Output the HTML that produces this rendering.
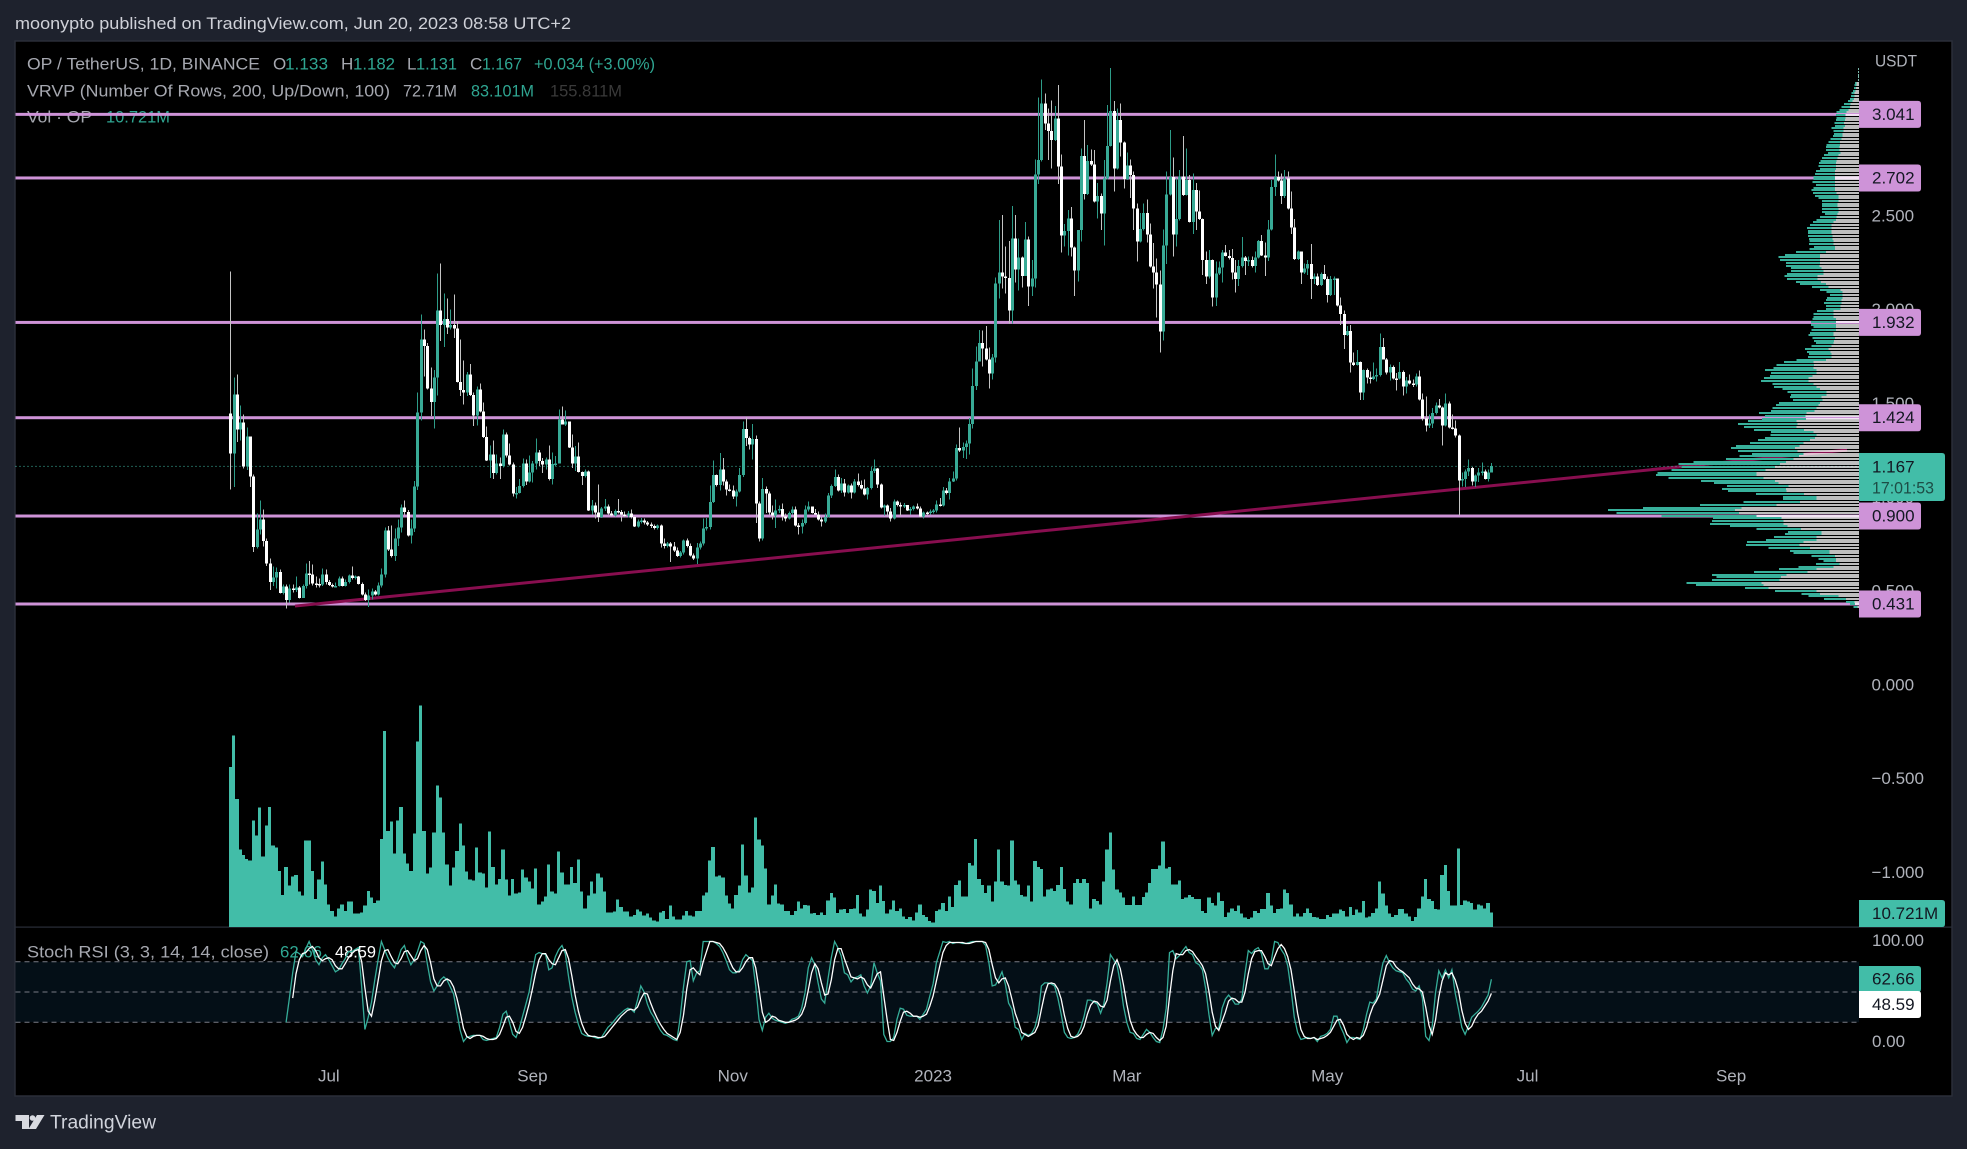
<!DOCTYPE html>
<html lang="en">
<head>
<meta charset="utf-8">
<title>OP / TetherUS chart</title>
<style>
html,body{margin:0;padding:0;background:#1e222d;width:1967px;height:1149px;overflow:hidden}
svg{display:block}
text{font-family:"Liberation Sans",sans-serif;font-size:17px;fill:#b0b3bb;dominant-baseline:central}
.lg{fill:#a6a8b0}.up{fill:#2fa692}
</style>
</head>
<body>
<svg id="chart" width="1967" height="1149" viewBox="0 0 1967 1149" xmlns="http://www.w3.org/2000/svg">
<rect x="0" y="0" width="1967" height="1149" fill="#1e222d"/>
<text x="15" y="23.5" textLength="556" lengthAdjust="spacingAndGlyphs" style="fill:#cfd1d8">moonypto published on TradingView.com, Jun 20, 2023 08:58 UTC+2</text>
<rect x="15" y="41" width="1937" height="1055" fill="#000" stroke="#2a2e39" stroke-width="1.5"/>
<g id="legends">
<text class="lg" x="27" y="64" textLength="233" lengthAdjust="spacingAndGlyphs">OP / TetherUS, 1D, BINANCE</text>
<text class="lg" x="273" y="64">O</text>
<text class="up" x="285" y="64" textLength="43" lengthAdjust="spacingAndGlyphs">1.133</text>
<text class="lg" x="341" y="64">H</text>
<text class="up" x="353" y="64" textLength="42" lengthAdjust="spacingAndGlyphs">1.182</text>
<text class="lg" x="407" y="64">L</text>
<text class="up" x="416" y="64" textLength="41" lengthAdjust="spacingAndGlyphs">1.131</text>
<text class="lg" x="470" y="64">C</text>
<text class="up" x="482" y="64" textLength="40" lengthAdjust="spacingAndGlyphs">1.167</text>
<text class="up" x="534" y="64" textLength="121" lengthAdjust="spacingAndGlyphs">+0.034 (+3.00%)</text>
<text class="lg" x="27" y="91" textLength="363" lengthAdjust="spacingAndGlyphs">VRVP (Number Of Rows, 200, Up/Down, 100)</text>
<text class="lg" x="403" y="91" textLength="54" lengthAdjust="spacingAndGlyphs">72.71M</text>
<text class="up" x="471" y="91" textLength="63" lengthAdjust="spacingAndGlyphs">83.101M</text>
<text x="550" y="91" textLength="72" lengthAdjust="spacingAndGlyphs" style="fill:#3a3a3a">155.811M</text>
<text class="lg" x="27" y="117" textLength="65" lengthAdjust="spacingAndGlyphs">Vol · OP</text>
<text class="up" x="106" y="117" textLength="64" lengthAdjust="spacingAndGlyphs">10.721M</text>
<text class="lg" x="27" y="952" textLength="242" lengthAdjust="spacingAndGlyphs">Stoch RSI (3, 3, 14, 14, close)</text>
<text class="up" x="280" y="952" textLength="42" lengthAdjust="spacingAndGlyphs">62.66</text>
<text x="335" y="952" textLength="41" lengthAdjust="spacingAndGlyphs" style="fill:#fff">48.59</text>
</g>
<g>
<path d="M15.5 1115H29V1129H22V1121H15.5ZM37 1115H44.5L36 1129H28.5Z" fill="#d8dae0"/>
<circle cx="32.5" cy="1118" r="2.8" fill="#d8dae0"/>
<text x="50" y="1123" textLength="106" lengthAdjust="spacingAndGlyphs" style="font-size:19px;fill:#d1d4dc">TradingView</text>
</g>
</svg>
<script>
// ---------- price series (one entry per daily bar) ----------
const firstOpen = 1.447;
const closes = [1.234,1.549,1.362,1.399,1.163,1.325,1.110,.735,.829,.882,
.767,.648,.548,.571,.602,.490,.523,.451,.513,.506,
.518,.463,.527,.593,.587,.539,.538,.534,.587,.548,
.532,.527,.527,.566,.527,.548,.584,.570,.577,.538,
.482,.451,.477,.498,.482,.530,.589,.824,.722,.687,
.781,.838,.945,.921,.797,.833,1.058,1.451,1.842,1.806,
1.581,1.508,1.638,1.996,1.917,1.949,1.904,1.917,1.899,1.614,
1.572,1.558,1.655,1.545,1.437,1.575,1.456,1.321,1.197,1.227,
1.128,1.181,1.167,1.335,1.223,1.174,1.021,1.024,1.060,1.181,
1.085,1.131,1.181,1.238,1.192,1.174,1.202,1.096,1.176,1.181,
1.415,1.389,1.405,1.266,1.181,1.216,1.135,1.113,1.138,.930,
.957,.918,.895,.939,.950,.914,.904,.927,.921,.909,
.904,.913,.895,.845,.870,.877,.865,.854,.847,.836,
.850,.754,.740,.754,.737,.717,.687,.705,.769,.740,
.690,.673,.733,.753,.833,.842,.975,1.119,1.065,1.147,
1.085,1.041,1.037,1.003,1.032,1.119,1.364,1.316,1.280,1.311,
.966,.779,1.044,1.019,.920,.902,.929,.938,.898,.888,
.916,.934,.850,.843,.863,.934,.950,.916,.909,.881,
.870,.895,1.009,1.060,1.108,1.035,1.073,1.025,1.062,1.025,
1.083,1.065,1.048,1.014,1.049,1.140,1.153,1.067,.945,.955,
.925,.888,.977,.959,.950,.959,.930,.938,.952,.939,
.897,.920,.918,.925,.929,.961,.955,1.035,1.023,1.085,
1.099,1.263,1.250,1.268,1.286,1.391,1.593,1.723,1.821,1.792,
1.735,1.659,1.744,2.140,2.199,2.176,2.169,1.995,2.380,2.215,
2.279,2.180,2.375,2.123,2.167,2.721,2.798,3.100,2.993,2.952,
2.905,3.020,2.762,2.395,2.418,2.487,2.331,2.208,2.425,2.819,
2.617,2.793,2.773,2.576,2.606,2.512,2.700,2.873,3.059,2.752,
3.011,2.890,2.697,2.769,2.718,2.538,2.363,2.430,2.515,2.400,
2.229,2.197,2.135,1.883,2.343,2.615,2.706,2.400,2.482,2.709,
2.611,2.691,2.467,2.638,2.522,2.482,2.265,2.176,2.265,2.064,
2.194,2.226,2.304,2.286,2.275,2.197,2.164,2.233,2.279,2.259,
2.265,2.233,2.279,2.366,2.290,2.277,2.428,2.654,2.706,2.688,
2.606,2.700,2.538,2.437,2.270,2.309,2.197,2.220,2.243,2.164,
2.176,2.131,2.190,2.164,2.078,2.164,2.167,2.021,1.977,1.865,
1.886,1.717,1.705,1.721,1.558,1.678,1.638,1.630,1.643,1.652,
1.801,1.734,1.666,1.694,1.634,1.632,1.668,1.591,1.622,1.606,
1.600,1.643,1.520,1.421,1.382,1.392,1.449,1.488,1.478,1.382,
1.499,1.371,1.367,1.328,1.088,1.097,1.138,1.156,1.083,1.115,
1.133,1.138,1.097,1.133,1.167];
const highs = [2.203,1.638,1.655,1.490,1.442,1.371,1.325,1.120,.913,.984,
.936,.779,.673,.630,.625,.616,.536,.536,.536,.536,
.577,.527,.536,.648,.660,.642,.577,.566,.619,.616,
.559,.541,.545,.577,.577,.562,.589,.630,.584,.580,
.545,.491,.509,.513,.506,.545,.619,.838,.847,.850,
.833,.882,.962,.984,.932,.882,1.087,1.558,1.975,1.895,
1.821,1.691,1.678,2.194,2.247,2.085,2.059,2.002,2.082,1.940,
1.842,1.730,1.668,1.709,1.558,1.590,1.607,1.504,1.376,1.277,
1.303,1.229,1.211,1.362,1.344,1.287,1.184,1.056,1.096,1.206,
1.202,1.223,1.193,1.312,1.252,1.209,1.211,1.277,1.238,1.220,
1.469,1.483,1.462,1.405,1.335,1.273,1.291,1.138,1.149,1.142,
.985,.971,1.069,.948,.992,.962,.927,.936,.992,.932,
.925,.927,.936,.904,.882,.889,.886,.873,.865,.856,
.856,.854,.779,.761,.761,.761,.731,.713,.776,.779,
.754,.701,.756,.765,.886,.890,1.062,1.195,1.121,1.236,
1.209,1.094,1.067,1.062,1.041,1.156,1.405,1.426,1.325,1.391,
1.328,.978,1.103,1.058,1.032,.955,.987,.955,.966,.913,
.925,.952,.952,.863,.881,.955,.978,.952,.938,.925,
.891,.913,1.023,1.067,1.147,1.121,1.103,1.097,1.067,1.073,
1.097,1.126,1.089,1.094,1.055,1.161,1.200,1.156,1.073,.961,
.961,.943,.987,.984,.973,.970,.959,.948,.955,.966,
.952,.925,.925,.934,.938,.982,.996,1.055,1.049,1.103,
1.138,1.280,1.373,1.293,1.302,1.423,1.687,1.803,1.892,1.888,
1.913,1.799,1.764,2.172,2.478,2.505,2.336,2.366,2.553,2.505,
2.380,2.283,2.466,2.389,2.265,2.801,3.132,3.228,3.153,3.073,
3.114,3.086,3.198,2.828,2.457,2.531,2.546,2.336,2.425,2.860,
3.011,2.878,2.855,2.851,2.674,2.620,2.798,3.091,3.287,3.112,
3.073,3.100,2.896,2.837,2.801,2.736,2.567,2.514,2.567,2.588,
2.460,2.354,2.274,2.208,2.428,2.736,2.958,2.812,2.700,2.745,
2.926,2.860,2.718,2.727,2.674,2.634,2.487,2.309,2.318,2.268,
2.256,2.256,2.318,2.345,2.318,2.322,2.265,2.265,2.386,2.286,
2.283,2.283,2.309,2.371,2.398,2.357,2.478,2.691,2.828,2.736,
2.727,2.745,2.736,2.629,2.482,2.315,2.309,2.247,2.265,2.350,
2.194,2.194,2.197,2.238,2.176,2.180,2.176,2.167,2.066,1.995,
1.913,1.918,1.771,1.785,1.723,1.682,1.687,1.670,1.717,1.687,
1.874,1.849,1.742,1.707,1.702,1.662,1.721,1.677,1.641,1.654,
1.627,1.659,1.675,1.552,1.538,1.440,1.476,1.506,1.524,1.485,
1.552,1.510,1.440,1.408,1.334,1.133,1.147,1.200,1.161,1.120,
1.156,1.186,1.147,1.147,1.182];
const lows = [1.042,1.055,1.295,1.303,1.154,1.144,1.055,.708,.728,.802,
.737,.634,.506,.527,.513,.488,.482,.406,.438,.491,
.495,.459,.463,.513,.536,.530,.518,.518,.527,.536,
.527,.518,.518,.523,.523,.523,.541,.562,.562,.534,
.477,.447,.415,.456,.477,.477,.518,.571,.713,.678,
.660,.740,.811,.909,.790,.754,.815,1.039,1.410,1.643,
1.575,1.433,1.367,1.543,1.833,1.801,1.869,1.895,1.849,1.611,
1.540,1.495,1.540,1.540,1.380,1.383,1.451,1.316,1.193,1.103,
1.096,1.122,1.096,1.158,1.211,1.170,1.003,.994,1.021,1.051,
1.064,1.078,1.078,1.149,1.167,1.128,1.149,1.090,1.069,1.167,
1.181,1.389,1.380,1.263,1.156,1.140,1.131,1.064,1.104,.927,
.907,.886,.868,.889,.927,.909,.897,.897,.914,.872,
.891,.891,.886,.841,.840,.861,.856,.847,.836,.829,
.829,.731,.726,.733,.655,.708,.682,.678,.696,.731,
.683,.666,.644,.721,.744,.824,.827,.970,1.058,1.037,
1.062,1.009,1.032,.991,.952,1.026,1.108,1.272,1.254,1.200,
.863,.765,.770,.916,.907,.881,.836,.916,.877,.870,
.881,.907,.845,.801,.806,.856,.925,.913,.906,.877,
.845,.863,.891,.996,1.055,1.032,1.023,1.005,1.019,.993,
1.019,1.058,1.041,1.010,.987,1.041,1.129,1.049,.941,.902,
.898,.870,.881,.952,.904,.943,.927,.907,.930,.934,
.893,.888,.902,.909,.913,.920,.952,.952,1.014,.987,
1.080,1.089,1.241,1.209,1.204,1.227,1.366,1.572,1.723,1.696,
1.728,1.581,1.629,1.717,2.059,2.114,2.087,1.927,1.927,2.144,
2.101,2.119,2.180,2.020,2.073,2.119,2.670,2.789,2.958,2.798,
2.753,2.899,2.670,2.304,2.336,2.288,2.283,2.073,2.149,2.363,
2.588,2.611,2.766,2.570,2.487,2.425,2.341,2.695,2.869,2.629,
2.748,2.816,2.647,2.691,2.594,2.425,2.256,2.357,2.421,2.357,
2.226,2.114,1.959,1.771,1.835,2.243,2.608,2.283,2.336,2.474,
2.606,2.608,2.464,2.403,2.425,2.478,2.185,2.137,2.167,2.016,
2.020,2.185,2.144,2.283,2.268,2.162,2.091,2.126,2.226,2.185,
2.233,2.226,2.197,2.274,2.286,2.180,2.259,2.421,2.606,2.684,
2.563,2.594,2.535,2.403,2.265,2.265,2.137,2.190,2.185,2.057,
2.137,2.126,2.126,2.158,2.037,2.073,2.078,2.016,1.918,1.789,
1.860,1.664,1.700,1.703,1.518,1.518,1.607,1.607,1.625,1.616,
1.643,1.734,1.654,1.622,1.627,1.568,1.627,1.543,1.552,1.600,
1.588,1.591,1.517,1.410,1.350,1.369,1.369,1.440,1.474,1.277,
1.378,1.367,1.360,1.318,.902,1.058,1.055,1.112,1.062,1.055,
1.080,1.115,1.094,1.083,1.131];
// ---------- volume (millions) ----------
const volumes = [120,143.5,96,58,54,51,50,80,68.5,89.5,53,76,90,61,59.5,42,24,45,31,38,39,26.5,23.5,65,65,42,21,35.5,49,32,17,12,8,14,17,12,19,19,10,10,11,16,27,22,18,20,66,147,72,79,55,80,90,55,47.5,42,70,139,166,72,40,44.5,71,106,97,71,47,31,44.5,57,77.5,61,41.5,35.5,35,59.5,41,40,29.5,71.5,45,32,36,58,35.5,23.5,36,25,26,43,37,34,29,44,17,19,23,47,26.5,25,56.5,41,32,32,45,33,50.5,26.5,14,23.5,34,25,40,37,26.5,11,11,11.5,20.5,15,11.5,11.5,8,9,13,11.5,8.5,10,7,5,4,11,12,6,16,8,5.5,5.5,8.5,12,8.5,8,12,12,23.5,26,50,60,38,38.5,37,23.5,17.5,14,24,31,62,38.5,26,29.5,82,65.5,61,44,17,23.5,32,17.5,17,12,12,9,12,19,
14,16.5,16,10,10.5,9,11,9,20,25.5,22,10.5,13,13.5,10.5,13.5,14,24,10,8,13,28,27,18,31,19.5,10,13,20,12,14,8,6,7.5,5,11,17,9,7.5,4.5,3.5,12,13,18,12,23,15,31.5,35,23,23,48,46,66,36,31.5,25.5,31,19,34,58,34,31.5,31,65,35,32,24,23,31,19,49.5,45,43.5,23,28,29,27,31.5,45,28.5,19,17,33,36,33,36,33,14,21,19.5,17,34,58,71,43,28,26,22,16.5,16.5,23,16.5,16.5,22.5,26,33,43.5,43.5,46,64,44,45,32,32,35,21,22,24,22.5,21,21,12,10.5,22,18,16,26,19.5,7.5,11,14,12,16,10,7,6,7,12,10.5,13.5,13.5,25.5,16,10.5,13.5,14,28,25.5,17,8,10,8,10.5,14,10.5,7.5,7,6,6,9,7.5,10,10,13,12,8,15,9,13,11,19.5,7,8,10.5,14,34,25,16,10,7.5,9,13.5,13.5,10,8,4.5,7.5,14,23,36,21,19.5,13.5,13,39,46.5,27,16,16,59,16.5,20,19,18,13,17,16,14,18,10.721];
// ---------- Stoch RSI (begins at bar stochStart) ----------
const stochStart = 17;
const stochK = [20,44,69,90,88,85,93,100,92,82,77,84,87,82,76,70,72,78,83,90,90,92,94,55,13,25,40,62,82,100,92,84,78,74,82,92,96,85,77,82,90,100,98,78,60,51,56,62,65,62,55,48,30,12,1,5,6,7,7,7,3,2,3,4,5,15,28,31,20,8,5,14,26,38,50,70,87,89,88,87,72,74,85,92,96,88,65,45,30,18,9,7,6,6,5,4,5,10,15,18,22,26,29,32,34,33,30,42,56,50,38,30,25,18,12,8,7,5,3,2,25,55,80,81,61,69,71,100,100,100,100,98,95,89,81,72,69,69,72,82,87,84,81,56,23,12,25,29,24,22,21,20,19,20,23,24,26,34,49,74,84,77,59,43,39,63,84,100,94,86,69,67,60,64,65,67,56,49,56,79,69,61,8,1,1,5,23,34,33,27,26,26,26,23,28,33,46,58,79,89,100,99,100,98,99,99,98,98,99,100,100,100,100,96,79,56,57,63,70,58,39,33,15,13,3,9,7,9,15,28,56,59,59,58,56,44,28,10,5,4,5,8,15,26,42,42,40,38,29,38,59,87,82,77,59,36,20,10,9,4,3,8,13,10,5,1,0,13,34,89,91,83,86,91,95,89,87,79,77,72,54,28,7,14,14,34,43,47,43,38,38,43,69,91,88,92,94,88,73,73,81,100,99,92,87,76,53,25,10,3,4,5,4,5,1,6,7,9,13,26,26,16,9,0,5,5,4,3,13,28,40,39,43,63,79,86,79,74,71,70,69,63,59,53,51,56,44,6,2,16,49,71,64,72,64,72,49,33,15,8,16,25,28,31,35,41,47,62.66];
const stochD = [null,null,44,68,82,88,89,93,95,91,84,81,83,84,82,76,73,73,78,84,88,91,92,80,54,31,26,42,61,81,91,92,85,79,78,83,90,91,86,81,83,91,96,92,79,63,56,56,61,63,61,55,44,30,14,6,4,6,7,7,6,4,3,3,4,8,16,25,26,20,11,9,15,26,38,53,69,82,88,88,82,78,77,84,91,92,83,66,47,31,19,11,7,6,6,5,5,6,10,14,18,22,26,29,32,33,32,35,43,49,48,39,31,24,18,13,9,7,5,3,10,27,53,72,74,70,67,80,90,100,100,99,98,94,88,81,74,70,70,74,80,84,84,74,53,30,20,22,26,25,22,21,20,20,21,22,24,28,36,52,69,78,73,59,47,48,62,82,93,93,83,74,65,64,63,65,63,57,54,61,68,70,46,23,3,2,10,21,30,31,29,26,26,25,26,28,36,46,61,75,89,96,99,99,99,99,99,98,98,99,100,100,100,99,92,77,64,59,63,64,56,43,29,20,10,8,6,8,10,17,33,48,58,59,58,53,43,27,14,6,5,6,9,16,28,37,41,40,36,35,42,61,76,82,73,57,38,22,13,8,5,5,8,10,9,5,2,5,16,45,71,88,87,87,91,92,90,85,81,76,68,51,30,16,12,21,30,41,44,43,40,40,50,68,83,90,91,91,85,78,76,85,93,97,93,85,72,51,29,13,6,4,4,5,3,4,5,7,10,16,22,23,17,8,5,3,5,4,7,15,27,36,41,48,62,76,81,80,75,72,70,67,64,58,54,53,50,35,17,8,22,45,61,69,67,69,62,51,32,19,13,16,23,28,31,36,41,48.59];
// ---------- visible range volume profile rows, top to bottom (millions) ----------
const vrvpDown = [.2,.2,.2,.2,.2,1.2,1.2,1.5,1.8,2.2,2.2,2.5,3.3,4.2,4.5,5.3,6.2,6.8,6.8,7,7.5,7,7.8,7.8,8.2,8.2,8.7,9.5,9.5,9.8,9.8,9.2,10.3,10.8,11.2,11.5,11.5,11.5,12,12,12,12,12,12,12,12,11.2,10.3,10.3,10.3,10.8,10.8,10.3,10.3,10.8,11.2,11.5,12.8,13.7,13.7,13.7,13.7,13.3,13.2,12.8,12.8,12,12,16.5,19.5,19.5,19.5,19.5,19.8,18.7,17.8,17.8,20.8,20.8,19,16.5,15.3,9.2,8.2,8.2,8.2,8.7,8.7,9.2,9.2,12.8,12.8,12.8,11.5,11.5,11.5,11.5,11.5,12.8,12.8,12,12.5,12.8,13.7,15.3,14.2,13.7,13.7,16.5,
22.8,22.5,22.8,21.2,21.2,23.2,25.3,25.3,22.8,21.2,19.5,16.2,16.2,18.7,18.2,19.5,20.3,21.2,22.3,26.2,26.7,26.5,31.2,30.8,31.2,27.5,22.8,21.2,22,24.5,27.8,29.8,32,30.8,27.8,30,32.8,36.5,39.5,42,46.7,51.2,51.2,47.8,42,40.3,35.3,36.5,36.2,27.5,21.2,21.2,29.5,41.2,58.7,62,60,51.2,38.7,37.8,37.8,35.7,29,18.7,18.7,21.2,21.2,27.8,29.8,24.5,14.8,14.8,12,11.5,11.5,9.8,12.8,21.2,25.7,36.2,39,39.8,48.7,47.8,45.3,21.2,19.5,10.3,6.5,2.3,2,.8];
const vrvpUp = [.2,.2,.2,.2,.2,.7,1,1,1.3,1.5,1.8,2,2.3,3.3,4.2,4.5,5,4.7,4.5,4.5,4.8,5,6,5,4.3,4.7,5.5,5.8,6.7,6.7,6.7,6.2,7.2,7.8,8,8.5,8.8,8,9.5,10,10.8,10.8,11.2,9.5,10.8,11.8,11.7,11.7,10,8.3,7.8,7.8,8.3,8.3,6.2,8.3,9.7,10.3,10.8,12.2,11.7,11.7,12.3,11.7,12,12.2,10.5,12.8,15,17.5,20.8,20,17,16.8,15.3,16.2,18.3,16.5,15.3,12.5,13,8.3,10.3,8,6.3,7.7,7.8,8.8,7.3,7.3,8.3,10,10,11.7,12.5,12.5,11.3,12.2,11.7,12.5,11.2,10,8.7,10,11.7,11.7,11.2,11.7,14.7,
14.7,18.7,20,25.8,22.8,21.3,22.2,23.7,20.5,21.3,18.8,19.5,17.8,15.8,14.7,20.5,21.2,22,21.8,23.8,20.3,22,24.2,29.7,26.3,25,21.3,23,25,26,26.7,31.7,32,29.7,25.8,29.8,33.7,46.3,50.8,46.7,47,49.5,50.3,47.5,37,32.2,30.8,32,29.2,24,16.7,16.7,28.3,38.3,49.2,63.5,61.2,47.5,34.2,35.8,36.7,28.8,22.2,16.7,18.3,21.3,25.3,28.3,26.7,20.8,19.7,18,11.7,8.8,6.3,11.7,17.5,18.7,26.8,37.3,32.2,33.7,37.5,33.7,11.7,20.8,9.2,15,11,4.2,2.5,2];
// ---------- annotations and axis labels ----------
const levelPrices = [3.041,2.702,1.932,1.424,0.900,0.431];
const levelLabels = ['3.041','2.702','1.932','1.424','0.900','0.431'];
const priceTicks = [3,2.5,2,1.5,1,0.5,0,-0.5,-1];
const priceTickLabels = ['3.000','2.500','2.000','1.500','1.000','0.500','0.000','\u22120.500','\u22121.000'];
const trendBars = [19.7,492.3];
const trendPrices = [0.42,1.252];
const lastPrice = 1.167;
const timeTickBars = [30,92,153,214,273,334,395,457];
const timeTickLabels = ['Jul','Sep','Nov','2023','Mar','May','Jul','Sep'];
const stochTicks = [100,0];
const stochTickLabels = ['100.00','0.00'];
const stochBands = [80,50,20];

// ---------- axis functions ----------
function xBar(i){return 230.3+3.284*i;}
function yPrice(p){return 604-(p-0.431)*187.6;}
function yVol(v){return 927-v/0.75;}
function yStoch(v){return 1042.5-v*1.01;}

const NS='http://www.w3.org/2000/svg';
const svg=document.getElementById('chart');
function mk(tag,attrs,parent){
  const e=document.createElementNS(NS,tag);
  for(const k in attrs)e.setAttribute(k,attrs[k]);
  (parent||svg).appendChild(e);
  return e;
}
const PANE_R=1859;
let el;

// time axis
timeTickBars.forEach(function(b,i){
  el=mk('text',{x:xBar(b),y:1076,'text-anchor':'middle'});
  el.textContent=timeTickLabels[i];
  
  
});

// USDT + price ticks
el=mk('text',{x:1875,y:61,textLength:42,lengthAdjust:'spacingAndGlyphs'});
el.textContent='USDT';


priceTicks.forEach(function(p,i){
  el=mk('text',{x:1871.5,y:yPrice(p)});
  el.textContent=priceTickLabels[i];
  
  
});
stochTicks.forEach(function(v,i){
  el=mk('text',{x:1872,y:yStoch(v)-1});
  el.textContent=stochTickLabels[i];
  
  
});

// pane separator
el=mk('rect',{x:15,y:926.5,width:1937,height:1.2,fill:'#2a2e39'});



// stoch band
el=mk('rect',{x:15.5,y:yStoch(stochBands[0]),width:PANE_R-15.5,height:yStoch(stochBands[2])-yStoch(stochBands[0]),fill:'#040f17'});


stochBands.forEach(function(v){
  el=mk('line',{x1:15.5,x2:PANE_R,y1:yStoch(v),y2:yStoch(v),stroke:'#787b86','stroke-width':1,'stroke-dasharray':'5 4'});
  
  
});

// horizontal levels
levelPrices.forEach(function(p){
  el=mk('rect',{x:15.5,y:yPrice(p)-1.5,width:PANE_R-15.5,height:3,fill:'#ce93d8'});
  
  
});

// trend line
el=mk('line',{x1:xBar(trendBars[0]),y1:yPrice(trendPrices[0]),x2:xBar(trendBars[1]),y2:yPrice(trendPrices[1]),stroke:'#880e4f','stroke-width':3});



// last price dotted line
el=mk('line',{x1:15.5,x2:PANE_R,y1:yPrice(lastPrice)+.5,y2:yPrice(lastPrice)+.5,stroke:'#3fbfa8','stroke-width':1,'stroke-dasharray':'1 3'});



// volume bars
const volGroup=mk('g',{'shape-rendering':'crispEdges',fill:'#42bda8'});


volumes.forEach(function(v,i){
  const x0=Math.round(xBar(i)-1.642),x1=Math.round(xBar(i)+1.642);
  el=mk('rect',{x:x0,y:yVol(v),width:x1-x0,height:927-yVol(v)},volGroup);
  
  
});

// candles
const candleGroup=mk('g',{'shape-rendering':'crispEdges'});


closes.forEach(function(c,i){
  const o=i===0?firstOpen:closes[i-1];
  const up=c>=o;
  const xc=Math.round(xBar(i));
  const yo=yPrice(o),yc=yPrice(c);
  const top=Math.min(yo,yc),h=Math.max(Math.abs(yo-yc),1.5);
  const g=mk('g',{},candleGroup);
  
  
  el=mk('rect',{x:xc,y:yPrice(highs[i]),width:1,height:yPrice(lows[i])-yPrice(highs[i]),fill:up?'#2d9c88':'#c4c4c4'},g);
  
  
  el=mk('rect',{x:xc-1,y:top,width:3,height:h,fill:up?'#38aa96':'#ffffff'},g);
  
  
});

// volume profile
const vrvpGroup=mk('g',{'shape-rendering':'crispEdges'});


const vpTop=yPrice(Math.max.apply(null,highs));
const vpBottom=yPrice(Math.min.apply(null,lows));
const vpRow=(vpBottom-vpTop)/vrvpDown.length;
const vpScale=2;
vrvpDown.forEach(function(d,i){
  const y=Math.round(vpTop+i*vpRow);
  const dw=d*vpScale,uw=vrvpUp[i]*vpScale;
  el=mk('rect',{x:PANE_R-dw,y:y,width:dw,height:2,fill:'#bebebe',style:'mix-blend-mode:screen'},vrvpGroup);
  
  
  el=mk('rect',{x:PANE_R-dw-uw,y:y,width:uw,height:2,fill:'#38b09b'},vrvpGroup);
  
  
});

// stoch lines
function linePath(arr){
  let d='',pen=false;
  arr.forEach(function(v,i){
    if(v===null)return;
    d+=(pen?'L':'M')+xBar(stochStart+i).toFixed(1)+' '+yStoch(v).toFixed(1);
    pen=true;
  });
  return d;
}
el=mk('path',{d:linePath(stochK),fill:'none',stroke:'#36ad99','stroke-width':1.3});


el=mk('path',{d:linePath(stochD),fill:'none',stroke:'#ffffff','stroke-width':1.3});



// axis badges
function badge(x,y,w,h,fill,label,fg){
  const g=mk('g',{});
  mk('path',{d:'M'+x+' '+y+'h'+(w-3)+'q3 0 3 3v'+(h-6)+'q0 3 -3 3h-'+(w-3)+'z',fill:fill},g);
  const t=mk('text',{x:1872,y:y+h/2,style:'fill:'+fg},g);
  t.textContent=label;
  return g;
}
levelPrices.forEach(function(p,i){
  const y=yPrice(p);
  el=badge(PANE_R,y-13.5,62,27,'#ce93d8',levelLabels[i],'#131722');
  
  
});
el=badge(PANE_R,453,86,48,'#42bda8','1.167','#131722');


el.lastChild.setAttribute('y',467);
el=mk('text',{x:1872,y:488,style:'fill:#1d4d46',textLength:62,lengthAdjust:'spacingAndGlyphs'});
el.textContent='17:01:53';


el=badge(PANE_R,900,86,27,'#42bda8','10.721M','#131722');


el=badge(PANE_R,966,62,26,'#42bda8','62.66','#131722');


el=badge(PANE_R,991,62,27,'#ffffff','48.59','#131722');


</script>
</body>
</html>
